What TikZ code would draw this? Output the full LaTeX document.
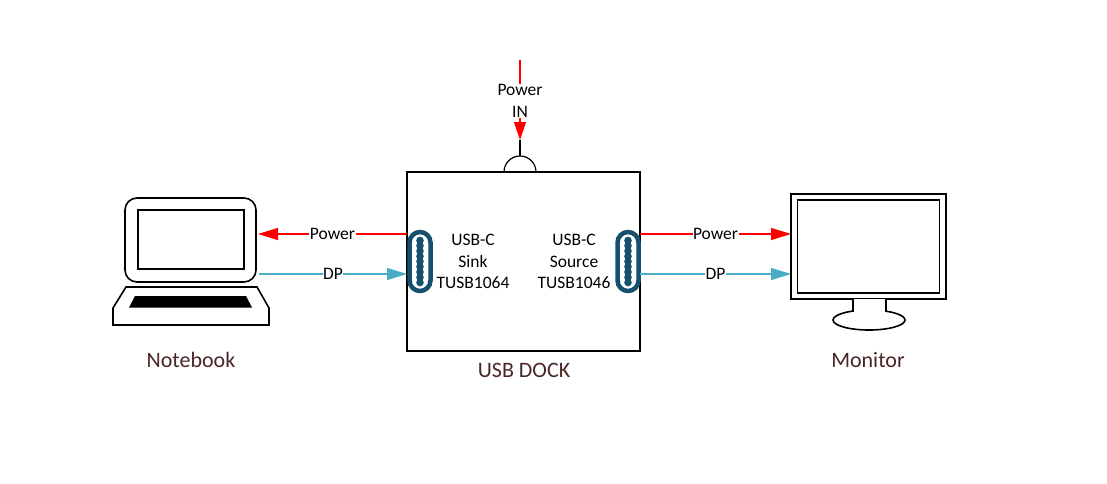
\documentclass[tikz,border=0pt]{standalone}
\usepackage{fontspec}
\setmainfont{Carlito}
\usepackage{xcolor}
\usetikzlibrary{positioning,arrows.meta}

\definecolor{pwrred}{HTML}{FF0000}
\definecolor{dpblue}{HTML}{4BACC6}
\definecolor{portblue}{HTML}{17506F}
\definecolor{capbrown}{HTML}{4A2626}

\tikzset{
    box/.style={draw=black, line width=1.6pt, fill=white, inner sep=0pt, outer sep=0pt},
    usbport/.style={draw=portblue, line width=4.5pt, fill=white, rounded corners=10.5pt, minimum width=21pt, minimum height=59pt, inner sep=0pt, outer sep=0pt},
    lbl/.style={font=\fontsize{17.5}{21.5}\selectfont, align=center, text=black, inner sep=0.5pt},
    caption/.style={font=\fontsize{22}{26}\selectfont, text=capbrown, inner sep=0pt},
    pwr/.style={draw=pwrred, line width=1.2pt, -{Triangle[length=20pt,width=12pt]}},
    dp/.style={draw=dpblue, line width=1.2pt, -{Triangle[length=20pt,width=12pt]}},
    onwire/.style={lbl, fill=white, midway}
}

\begin{document}
\begin{tikzpicture}[x=1pt, y=-1pt, node distance=345pt, on grid]
    \useasboundingbox (0,0) rectangle (1107,483);

    % dock and the jack on top
    \node[box, minimum width=233pt, minimum height=179pt] (dock) at (523.5,261.5) {};
    \draw[black, line width=1.2pt, fill=white] (504,172) arc[start angle=180, end angle=360, radius=16] -- cycle;
    \draw[black, line width=2pt] (489,172) -- (552,172);
    \coordinate (jack) at (520,156);
    \coordinate (pwrin) at (520,60);
    \coordinate (pwrtip) at (520,140);

    % usb-c ports
    \node[usbport] (sink) at (420,261.5) {};
    \node[usbport] (source) at (628,261.5) {};
    \foreach \port in {sink, source} {
        \draw[portblue, line width=3pt] ([yshift=-21pt]\port.center) -- ([yshift=21pt]\port.center);
        \foreach \i in {-21,-15.75,...,21}
            \fill[portblue] ([yshift=\i pt]\port.center) circle[radius=3.8pt];
    }

    % notebook
    \draw[black, line width=1.6pt, rounded corners=12pt] (125,282) -- (125,198) -- (256,198) -- (256,282) -- cycle;
    \node[box, minimum width=106pt, minimum height=59pt] (nbscreen) at (191,239.5) {};
    \draw[black, line width=1.6pt] (126,287) -- (257,287) -- (269,308) -- (269,325) -- (113,325) -- (113,308) -- cycle;
    \fill[black] (135,296) -- (246,296) -- (252,307.5) -- (129,307.5) -- cycle;
    \coordinate (nbpwr) at (258,234);
    \coordinate (nbdp) at (259,274);

    % monitor
    \node[box, minimum width=155pt, minimum height=105pt] (monitor) [right=345pt of dock, yshift=15pt] {};
    \node[box, minimum width=142pt, minimum height=93pt] (monscreen) at (monitor.center) {};
    \draw[black, line width=1.6pt, fill=white] (869,320) ellipse[x radius=36, y radius=10];
    \draw[black, line width=1.6pt, fill=white] (853,299) -- (853,311.5) -- (886,311.5) -- (886,299);
    \fill[white] (854,310) rectangle (885,313.5);

    % captions
    \node[caption] (nbcap) at (191,360) {Notebook};
    \node[caption] (dockcap) at (524,370) {USB DOCK};
    \node[caption] (moncap) at (868,360) {Monitor};

    % port labels
    \node[lbl] (sinklbl) at (473,261.5) {USB-C\\Sink\\TUSB1064};
    \node[lbl] (sourcelbl) at (574,261.5) {USB-C\\Source\\TUSB1046};

    % power and display links
    \path
        (dock.west |- nbpwr) edge[pwr] node[onwire] {Power} (nbpwr)
        (nbdp) edge[dp] node[onwire] {DP} (dock.west |- nbdp)
        (dock.east |- nbpwr) edge[pwr] node[onwire] {Power} (monitor.west |- nbpwr)
        (dock.east |- nbdp) edge[dp] node[onwire] {DP} (monitor.west |- nbdp);

    % power input
    \node[lbl] (pwrlbl) at (520,101) {Power\\IN};
    \draw[black, line width=1.2pt] (jack) -- (pwrtip);
    \draw[pwrred, line width=1.2pt] (pwrin) -- (pwrlbl.north);
    \path (pwrlbl.south) edge[pwr, -{Triangle[length=18pt,width=12pt]}] (pwrtip);

\end{tikzpicture}
\end{document}
